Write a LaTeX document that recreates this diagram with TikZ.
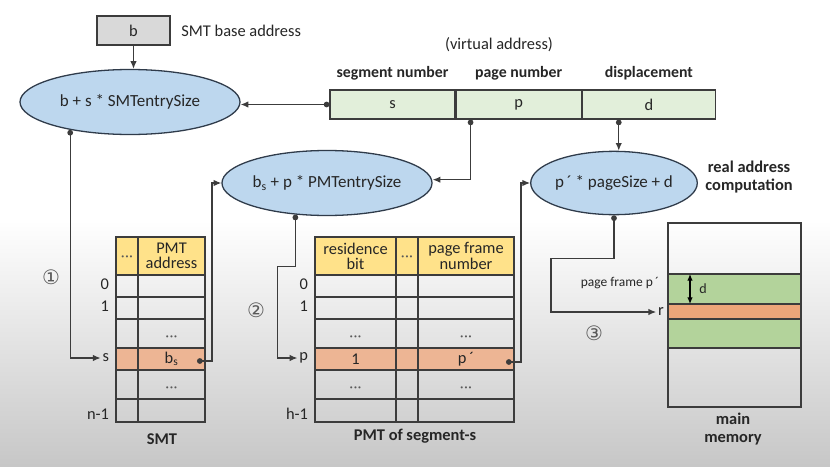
\documentclass[tikz,border=0pt]{standalone}
\usepackage{fontspec}
\setmainfont{Carlito}
\newfontfamily\circfont{DejaVu Sans}
\usetikzlibrary{positioning, shapes.geometric, arrows.meta}
\definecolor{CalcBlue}{HTML}{BDD7EE}
\definecolor{CalcLine}{HTML}{2F3B4A}
\definecolor{FieldGreen}{HTML}{E2EFDA}
\definecolor{HeadYellow}{HTML}{FFE28A}
\definecolor{RowOrange}{HTML}{EDB594}
\definecolor{FrameGreen}{HTML}{B3D39B}
\definecolor{FrameOrange}{HTML}{EDA679}
\definecolor{BaseGray}{HTML}{D9D9D9}
\definecolor{LineGray}{HTML}{3C3C3C}
\definecolor{InkText}{HTML}{262626}
\definecolor{CircText}{HTML}{595959}

\tikzset{
  calc/.style={ellipse, draw=CalcLine, fill=CalcBlue, line width=1.1pt,
               inner sep=0pt, font=\fontsize{14.5}{16}\selectfont},
  field/.style={draw=LineGray, fill=FieldGreen, line width=1pt,
                minimum width=37.5mm, minimum height=8.7mm, inner sep=0pt},
  fieldlab/.style={font=\bfseries\fontsize{13.5}{15}\selectfont},
  tline/.style={draw=LineGray, line width=1.1pt},
  rowlab/.style={anchor=east, inner sep=1.5pt},
  cell/.style={inner sep=0pt, align=center, font=\fontsize{14}{13}\selectfont},
  tdots/.style={inner sep=0pt, text=CircText, font=\fontsize{5}{5}\selectfont},
  conn/.style={draw=LineGray, line width=1pt, {Circle[length=1.7mm]}-{Latex[length=2.3mm,width=1.9mm]}},
  plain/.style={draw=LineGray, line width=1pt, -{Latex[length=2.3mm,width=1.9mm]}},
  stepnum/.style={text=CircText, font=\circfont\fontsize{17}{17}\selectfont},
  caption/.style={font=\bfseries\fontsize{14}{15}\selectfont, align=center}
}
\newcommand{\tdotrow}{\textbullet\kern1pt\textbullet\kern1pt\textbullet}

\begin{document}
\begin{tikzpicture}[x=0.3mm, y=-0.3mm, text=InkText, font=\fontsize{14}{16}\selectfont]
\useasboundingbox (0,0) rectangle (830,466);
% background fades to grey at the bottom
\fill[white] (0,0) rectangle (830,220);
\shade[top color=white, bottom color=black!22] (0,220) rectangle (830,466);

% base address and segment computation
\node[draw=LineGray, fill=BaseGray, line width=1pt, minimum width=21.9mm,
      minimum height=8.7mm, inner sep=0pt] (base) at (133.5,30.5) {b};
\node[right=2mm of base] (baselab) {SMT base address};
\node[calc, minimum width=66mm, minimum height=19.5mm] (ell1) at (130,102) {b + s * SMTentrySize};

% virtual address
\node (va) at (499,45) {(virtual address)};
\node[field] (fs) at (392.5,104.5) {s};
\node[field, right=0pt of fs] (fp) {p};
\node[field, right=0pt of fp, minimum width=39.9mm] (fd) {d};
\node[fieldlab, above=1.5mm of fs] {segment number};
\node[fieldlab, above=1.5mm of fp] {page number};
\node[fieldlab, above=1.5mm of fd] {displacement};

% page and real address computation
\node[calc, minimum width=59.4mm, minimum height=19.5mm] (ell2) at (327,183) {b\textsubscript{s} + p * PMTentrySize};
\node[calc, minimum width=45.9mm, minimum height=19mm] (ell3) at (614,183) {p\,´ * pageSize + d};
\node[caption] (realcap) at (749,177) {real address\\computation};

% SMT
\draw[tline, fill=HeadYellow] (116,237) rectangle (205,275);
\fill[RowOrange] (116,348) rectangle (205,370);
\draw[tline] (116,275) rectangle (205,422);
\foreach \y in {297,319,348,370,399}
  \draw[tline] (116,\y) -- (205,\y);
\draw[tline] (138,237) -- (138,422);
\node[tdots] (smt-h1) at (127,257) {\tdotrow};
\node[cell] (smt-h2) at (171.5,256) {PMT\\address};
\node[tdots] (smt-d1) at (171.5,337) {\tdotrow};
\node[cell] (smt-bs) at (171.5,359) {b\textsubscript{s}};
\node[tdots] (smt-d2) at (171.5,388) {\tdotrow};
\coordinate (bs-out) at (197,361);
\node[rowlab] (smt-0) at (111,284) {0};
\node[rowlab] (smt-1) at (111,306) {1};
\node[rowlab] (smt-s) at (111,358) {s};
\node[rowlab] (smt-n) at (111,414) {n-1};
\node[caption] (smtcap) at (162,439) {SMT};

% PMT of segment s
\draw[tline, fill=HeadYellow] (315,237) rectangle (514,275);
\fill[RowOrange] (315,348) rectangle (514,370);
\draw[tline] (315,275) rectangle (514,422);
\foreach \y in {297,319,348,370,399}
  \draw[tline] (315,\y) -- (514,\y);
\foreach \x in {396,418}
  \draw[tline] (\x,237) -- (\x,422);
\node[cell] (pmt-h1) at (355.5,256) {residence\\bit};
\node[tdots] (pmt-h2) at (407,257) {\tdotrow};
\node[cell] (pmt-h3) at (466,256) {page frame\\number};
\foreach \x/\c in {355.5/a,466/b} {
  \node[tdots] (pmt-d1\c) at (\x,337) {\tdotrow};
  \node[tdots] (pmt-d2\c) at (\x,388) {\tdotrow};
}
\node[cell] (pmt-bit) at (355.5,359) {1};
\node[cell] (pmt-pf) at (466,359) {p\,´};
\coordinate (pf-out) at (506,362);
\node[rowlab] (pmt-0) at (310,284) {0};
\node[rowlab] (pmt-1) at (310,306) {1};
\node[rowlab] (pmt-p) at (310,358) {p};
\node[rowlab] (pmt-h) at (310,414) {h-1};
\node[caption] (pmtcap) at (415,436) {PMT of segment-s};

% main memory
\node[draw=LineGray, line width=1.1pt, minimum width=39.9mm, minimum height=55.2mm,
      inner sep=0pt] (mem) at (734.5,315) {};
\draw[tline, fill=FrameGreen] (668,274) rectangle (801,348);
\draw[tline, fill=FrameOrange] (668,304) rectangle (801,319);
\draw[draw=black, line width=1pt, {Latex[length=2mm,width=1.7mm]}-{Latex[length=2mm,width=1.7mm]}] (690,274) -- (690,304);
\node (dlab) at (703,289) {\fontsize{12}{12}\selectfont d};
\node[font=\fontsize{11.5}{12}\selectfont] (pflab) at (620,283) {page frame p\,´};
\node[rowlab, anchor=center] (rlab) at (661,312) {r};
\node[caption] (memcap) at (733,429) {main\\memory};

% steps
\node[stepnum] (st1) at (51,277) {①};
\node[stepnum] (st2) at (256,310) {②};
\node[stepnum] (st3) at (594,333) {③};

% connectors
\draw[plain] (base.south) -- (base.south |- ell1.north);
\draw[conn] (fs.west) -- (fs.west -| ell1.east);
\draw[conn] (ell1.205) |- (smt-s.west);
\draw[conn] (bs-out) -- ++(15,0) |- (ell2.west);
\draw[conn] ([xshift=4.5mm]fp.south west) |- ([yshift=1mm]ell2.east);
\draw[conn] (ell2.225) -- ++(0,52) -- ++(-18,0) |- (pmt-p.west);
\draw[conn] (pf-out) -- ++(15,0) |- (ell3.west);
\draw[conn] ([xshift=11.1mm]fd.south west) -- ([xshift=11.1mm]fd.south west |- ell3.north);
\draw[conn] (ell3.south) -- ++(0,43) -- ++(-63,0) |- (rlab.west);
\end{tikzpicture}
\end{document}
